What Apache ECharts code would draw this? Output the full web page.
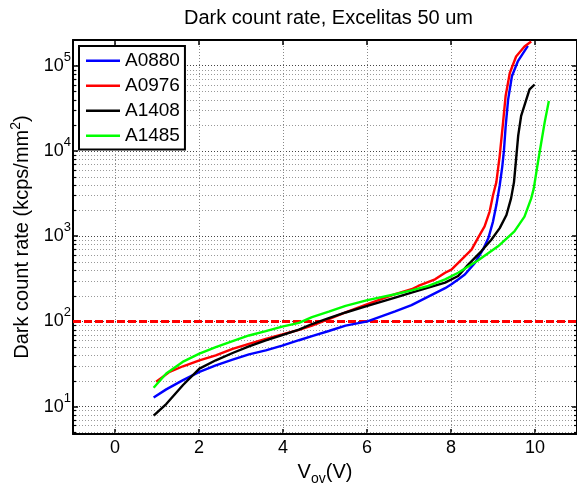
<!DOCTYPE html>
<html><head><meta charset="utf-8">
<script src="https://cdn.jsdelivr.net/npm/echarts@6/dist/echarts.min.js"></script>
<style>html,body{margin:0;padding:0;background:#fff}#c{width:577px;height:491px}</style>
</head><body><div id="c"></div><script>
const TITLE = 'Dark count rate, Excelitas 50 um';
const seriesNames = ['A0880', 'A0976', 'A1408', 'A1485'];
const seriesColors = ['#0000ff', '#ff0000', '#000000', '#00ff00'];

const a0880_x = [0.92,1.22,1.62,2.01,2.40,2.80,3.19,3.59,3.98,4.38,4.69,5.09,5.49,6.01,6.67,7.06,7.46,7.86,8.01,8.17,8.33,8.57,8.76,8.89,9.00,9.08,9.16,9.22,9.26,9.30,9.36,9.45,9.59,9.83];
const a0880_y = [12.8,15.9,20.4,25.5,30.5,35.5,41.0,45.6,52,60,67,77,89,100,131,155,195,245,272,310,355,485,693,948,1480,2310,3950,6500,10000,19000,40000,75000,112000,171000];

const a0976_x = [0.98,1.30,1.62,2.01,2.40,2.80,3.19,3.59,3.98,4.38,4.69,5.09,5.49,6.01,6.67,7.06,7.22,7.62,7.86,8.01,8.25,8.49,8.64,8.80,8.92,9.00,9.08,9.16,9.24,9.30,9.40,9.55,9.75,9.91];
const a0976_y = [19.5,25.5,29.7,34.9,39.9,47.6,54.5,62.2,70,79.3,89,106,127,159,208,238,260,311,372,405,530,693,948,1300,1940,3020,4300,8800,21600,44000,82000,128000,168000,192000];

const a1408_x = [0.92,1.22,1.62,2.01,2.40,2.80,3.19,3.59,3.98,4.38,4.69,5.09,5.49,6.01,6.67,7.06,7.46,7.86,8.17,8.41,8.72,8.96,9.16,9.32,9.43,9.50,9.55,9.60,9.67,9.77,9.87,9.99];
const a1408_y = [7.8,10.7,17.9,27.9,34.9,42.5,50.8,59.7,69,80,93,109,127,152,190,217,248,284,340,463,663,906,1240,1770,2770,4300,8000,15100,25700,36800,52600,60100];

const a1485_x = [0.92,1.22,1.61,2.01,2.40,2.80,3.19,3.59,3.98,4.38,4.69,5.09,5.49,6.01,6.67,7.06,7.46,7.86,8.17,8.64,9.12,9.51,9.75,9.91,9.97,10.07,10.15,10.23,10.33];
const a1485_y = [16.6,24.4,33.4,41.7,49.9,58.5,68.2,76.6,86.7,96,112,130,152,177,208,231,260,311,372,516,759,1135,1695,2770,3610,7360,12600,21600,38400];

const THRESHOLD = 100;
const xTicks = [0, 2, 4, 6, 8, 10];
const yDecades = [10, 100, 1000, 10000, 100000];
const minorMult = [2, 3, 4, 5, 6, 7, 8, 9];
const X_MIN = -1, X_MAX = 11, Y_MIN = 4.75, Y_MAX = 200000;

const FONT = "'Liberation Sans', Arial, sans-serif";
const xs = [a0880_x, a0976_x, a1408_x, a1485_x];
const ys = [a0880_y, a0976_y, a1408_y, a1485_y];

const minorVals = [];
[1].concat(yDecades).forEach(d => minorMult.forEach(m => {
  const v = d * m;
  if (v > Y_MIN && v < Y_MAX && yDecades.indexOf(v) < 0) minorVals.push(v);
}));

const chart = echarts.init(document.getElementById('c'), null, {renderer: 'canvas'});

const lineSeries = seriesNames.map((n, i) => ({
  name: n, type: 'line', symbol: 'none', showSymbol: false, z: 5 + i,
  xAxisIndex: 0, yAxisIndex: 0,
  lineStyle: {color: seriesColors[i], width: 2.4},
  itemStyle: {color: seriesColors[i]},
  data: xs[i].map((x, k) => [x, ys[i][k]]),
  animation: false
}));

const supLabel = v => {
  const e = Math.round(Math.log10(v));
  return '{b|10}{s|' + e + '}';
};

const option = {
  animation: false,
  backgroundColor: '#ffffff',
  title: {
    text: TITLE, left: 184, top: 8, padding: 0,
    textStyle: {fontFamily: FONT, fontSize: 20, fontWeight: 'normal', color: '#000'}
  },
  legend: {
    data: seriesNames.map(n => ({name: n, icon: 'rect'})),
    orient: 'vertical', left: 79, top: 46,
    padding: [5, 5, 4, 7], itemWidth: 34, itemHeight: 2.5, itemGap: 5.5,
    borderColor: '#000', borderWidth: 2, backgroundColor: '#fff',
    textStyle: {fontFamily: FONT, fontSize: 19, color: '#000', lineHeight: 19.5},
    z: 20
  },
  grid: {left: 73, top: 40, right: -2.5, bottom: 53.5, containLabel: false},
  xAxis: [{
    type: 'value', min: X_MIN, max: X_MAX, position: 'bottom',
    name: '{a|V}{sub|ov}{a|(V)}', nameLocation: 'middle', nameGap: 26,
    nameTextStyle: {rich: {
      a: {fontFamily: FONT, fontSize: 20, color: '#000', lineHeight: 24, verticalAlign: 'top'},
      sub: {fontFamily: FONT, fontSize: 14, color: '#000', lineHeight: 14, verticalAlign: 'bottom'}
    }},
    axisLine: {show: true, onZero: false, lineStyle: {color: '#000', width: 2}},
    axisTick: {show: true, inside: true, length: 5, lineStyle: {color: '#000', width: 1.5}, customValues: xTicks},
    axisLabel: {show: true, margin: 5, fontFamily: FONT, fontSize: 18, color: '#000', customValues: xTicks},
    splitLine: {show: true, lineStyle: {color: '#888', width: 1, type: [1, 2]}}
  }, {
    type: 'value', min: X_MIN, max: X_MAX, position: 'top',
    axisLine: {show: true, onZero: false, lineStyle: {color: '#000', width: 2}},
    axisTick: {show: true, inside: true, length: 5, lineStyle: {color: '#000', width: 1.5}, customValues: xTicks},
    axisLabel: {show: false},
    splitLine: {show: false}
  }],
  yAxis: [{
    type: 'log', logBase: 10, min: Y_MIN, max: Y_MAX, position: 'left',
    name: '{a|Dark count rate (kcps/mm}{s|2}{a|)}', nameLocation: 'middle', nameGap: 36, nameRotate: 90,
    nameTextStyle: {rich: {
      a: {fontFamily: FONT, fontSize: 20, color: '#000', lineHeight: 24, verticalAlign: 'bottom'},
      s: {fontFamily: FONT, fontSize: 14, color: '#000', lineHeight: 14, verticalAlign: 'top'}
    }},
    axisLine: {show: true, onZero: false, lineStyle: {color: '#000', width: 2}},
    axisTick: {show: true, inside: true, length: 5, lineStyle: {color: '#000', width: 1.5}, customValues: yDecades},
    axisLabel: {show: true, margin: 2, customValues: yDecades, formatter: supLabel,
      rich: {
        b: {fontFamily: FONT, fontSize: 18, color: '#000', lineHeight: 30},
        s: {fontFamily: FONT, fontSize: 13, color: '#000', lineHeight: 13, verticalAlign: 'top'}
      }},
    splitLine: {show: true, lineStyle: {color: '#444', width: 1, type: [1, 2]}}
  }, {
    type: 'log', logBase: 10, min: Y_MIN, max: Y_MAX, position: 'right',
    axisLine: {show: true, onZero: false, lineStyle: {color: '#000', width: 2}},
    axisTick: {show: true, inside: true, length: 5, lineStyle: {color: '#000', width: 1.5}, customValues: yDecades},
    axisLabel: {show: false},
    splitLine: {show: false}
  }],
  series: [{
    name: 'minorGrid', type: 'custom', silent: true, z: 1,
    xAxisIndex: 0, yAxisIndex: 0,
    data: minorVals.map(v => [X_MIN, v]),
    encode: {x: 0, y: 1},
    renderItem: function (params, api) {
      const p = api.coord([api.value(0), api.value(1)]);
      const cs = params.coordSys;
      const y = Math.round(p[1]) + 0.5;
      return {type: 'group', children: [
        {type: 'line', shape: {x1: cs.x, y1: y, x2: cs.x + cs.width, y2: y},
          style: {stroke: '#999', lineWidth: 1, lineDash: [1, 2]}},
        {type: 'line', shape: {x1: cs.x, y1: y, x2: cs.x + 3, y2: y},
          style: {stroke: '#000', lineWidth: 1.2}},
        {type: 'line', shape: {x1: cs.x + cs.width - 3, y1: y, x2: cs.x + cs.width, y2: y},
          style: {stroke: '#000', lineWidth: 1.2}}
      ]};
    }
  }].concat(lineSeries).concat([{
    name: 'threshold', type: 'line', data: [], z: 12,
    xAxisIndex: 0, yAxisIndex: 0,
    markLine: {
      silent: true, symbol: 'none', label: {show: false},
      lineStyle: {color: '#ff0000', width: 3, type: [8, 3]},
      data: [{yAxis: THRESHOLD}]
    }
  }])
};
chart.setOption(option);
</script></body></html>
